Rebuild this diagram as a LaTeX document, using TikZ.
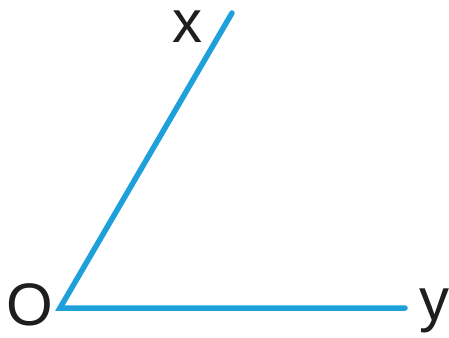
\documentclass[tikz,border=0pt]{standalone}
\usepackage{fontspec}
\setmainfont{Liberation Sans}
\definecolor{rayblue}{RGB}{30,160,218}
\definecolor{labgray}{RGB}{30,30,30}
\tikzset{
  ray/.style={draw=rayblue, line width=5.5pt, line cap=round},
  lab/.style={inner sep=0pt, anchor=base, text=labgray, font=\fontsize{60}{72}\selectfont}
}
\begin{document}
\begin{tikzpicture}[x=1pt,y=-1pt]
\useasboundingbox (0,0) rectangle (449,337);
\coordinate (O) at (60,308);
\coordinate (X) at (232,13);
\coordinate (Y) at (405,308);
\draw[ray] (X) -- (O) -- (Y);
\node[lab] (lo) at (30,325) {O};
\node[lab] (lx) at (187,43) {x};
\node[lab] (ly) at (434,320) {y};
\end{tikzpicture}
\end{document}
